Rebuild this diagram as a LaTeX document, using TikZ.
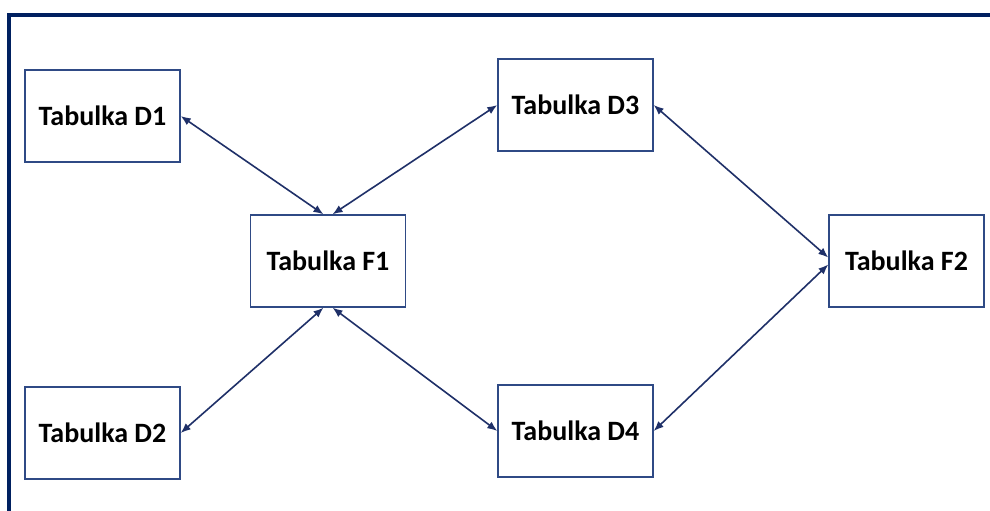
\documentclass[tikz,border=0pt]{standalone}
\usepackage{fontspec}
\setmainfont{Carlito}
\usetikzlibrary{arrows.meta}
\definecolor{navy}{HTML}{002060}
\definecolor{boxline}{HTML}{2F4A85}
\definecolor{arrowc}{HTML}{1F3068}
\begin{document}
\begin{tikzpicture}[x=0.75pt,y=-0.75pt,
  tab/.style={draw=boxline,line width=1.4pt*0.75,fill=white,minimum width=155*0.75pt,minimum height=92*0.75pt,inner sep=0pt,font=\bfseries\fontsize{21pt}{24pt}\selectfont},
  link/.style={draw=arrowc,line width=1.6*0.75pt,{Latex[length=7.5pt,width=6pt]}-{Latex[length=7.5pt,width=6pt]}}]
\useasboundingbox (0,0) rectangle (990,511);
\fill[white] (0,0) rectangle (990,511);
\draw[navy,line width=4*0.75pt] (8.5,511) -- (8.5,14.5) -- (990,14.5);
\node[tab] (D1) at (102.5,116) {Tabulka D1};
\node[tab] (D3) at (575.5,105) {Tabulka D3};
\node[tab] (F1) at (328,261) {Tabulka F1};
\node[tab] (F2) at (906.5,261) {Tabulka F2};
\node[tab] (D2) at (102.5,433) {Tabulka D2};
\node[tab] (D4) at (575.5,431) {Tabulka D4};
\draw[link] (D1.east) -- ([xshift=-3.4pt]F1.north);
\draw[link] (D3.west) -- ([xshift=3.4pt]F1.north);
\draw[link] (D2.east) -- ([xshift=-3.4pt]F1.south);
\draw[link] (D4.west) -- ([xshift=3.4pt]F1.south);
\draw[link] (D3.east) -- ([yshift=2.6pt]F2.west);
\draw[link] (D4.east) -- ([yshift=-2.6pt]F2.west);
\end{tikzpicture}
\end{document}
